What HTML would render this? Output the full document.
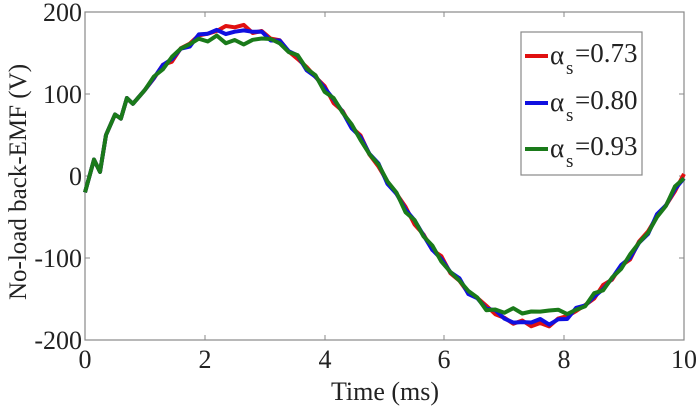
<!DOCTYPE html>
<html><head><meta charset="utf-8"><style>
body{margin:0;background:#fff;}
svg{display:block;font-family:"Liberation Serif",serif;}
</style></head><body>
<svg id="s" width="700" height="410" xmlns="http://www.w3.org/2000/svg">
<rect x="85" y="12" width="599" height="328" fill="#fff" stroke="#888" stroke-width="1.2"/>
<g stroke="#888" stroke-width="1">
<line x1="205" y1="340" x2="205" y2="335"/><line x1="325" y1="340" x2="325" y2="335"/><line x1="444" y1="340" x2="444" y2="335"/><line x1="564" y1="340" x2="564" y2="335"/>
<line x1="205" y1="12" x2="205" y2="17"/><line x1="325" y1="12" x2="325" y2="17"/><line x1="444" y1="12" x2="444" y2="17"/><line x1="564" y1="12" x2="564" y2="17"/>
<line x1="85" y1="94" x2="90" y2="94"/><line x1="85" y1="176" x2="90" y2="176"/><line x1="85" y1="258" x2="90" y2="258"/>
<line x1="684" y1="94" x2="679" y2="94"/><line x1="684" y1="176" x2="679" y2="176"/><line x1="684" y1="258" x2="679" y2="258"/>
</g>
<g font-size="26" fill="#222" text-anchor="end">
<text x="82" y="21">200</text><text x="82" y="103">100</text><text x="82" y="185">0</text><text x="82" y="267">-100</text><text x="82" y="349">-200</text>
</g>
<g font-size="26" fill="#222" text-anchor="middle">
<text x="85" y="368">0</text><text x="205" y="368">2</text><text x="325" y="368">4</text><text x="444" y="368">6</text><text x="564" y="368">8</text><text x="684" y="368">10</text>
<text x="385" y="400">Time (ms)</text>
</g>
<text font-size="25" fill="#222" text-anchor="middle" transform="translate(26,182) rotate(-90)">No-load back-EMF (V)</text>
<g id="curves" fill="none" stroke-width="4" stroke-linejoin="round"></g>
<rect x="521" y="32" width="121" height="143" fill="#fff" stroke="#888" stroke-width="1.2"/>
<g stroke-width="4"><line x1="525" y1="56" x2="548" y2="56" stroke="#e01010"/><line x1="525" y1="103" x2="548" y2="103" stroke="#1010e0"/><line x1="525" y1="149" x2="548" y2="149" stroke="#1a7a1a"/></g>
<g font-size="27" fill="#222">
<text x="550" y="64">α</text><text x="566" y="74" font-size="19">s</text><text x="575" y="62">=0.73</text>
<text x="550" y="111">α</text><text x="566" y="121" font-size="19">s</text><text x="575" y="109">=0.80</text>
<text x="550" y="157">α</text><text x="566" y="167" font-size="19">s</text><text x="575" y="155">=0.93</text>
</g>
</svg>
<script>
var early=[[0,-20],[0.15,20],[0.25,5],[0.35,50],[0.5,75],[0.6,70],[0.7,95],[0.8,88],[1,105]];
function base(t){return 182*Math.sin(2*Math.PI*t/10);}
var cfg=[["#1a7a1a",167,165,1],["#1010e0",176,178,2],["#e01010",183,181,3]];
var order=[cfg[2],cfg[1],cfg[0]];
var g=document.getElementById("curves");
order.forEach(function(c){
 var pts=early.slice();
 for(var t=1.15;t<=10.001;t+=0.15){
  var v=base(t);
  v=Math.max(Math.min(v,c[1]),-c[2]);
  v+=3*Math.sin(t*23+c[3])+1.5*Math.sin(t*51+2*c[3]);
  if(c[0]=="#1a7a1a"&&t>2.2&&t<2.9)v-=3;
  pts.push([t,v]);
 }
 var d="";
 pts.forEach(function(p){var x=85+59.9*p[0],y=176-0.82*p[1];d+=(d?"L":"M")+x.toFixed(1)+","+y.toFixed(1);});
 var p=document.createElementNS("http://www.w3.org/2000/svg","path");
 p.setAttribute("d",d);p.setAttribute("stroke",c[0]);g.appendChild(p);
});
</script>
</body></html>
